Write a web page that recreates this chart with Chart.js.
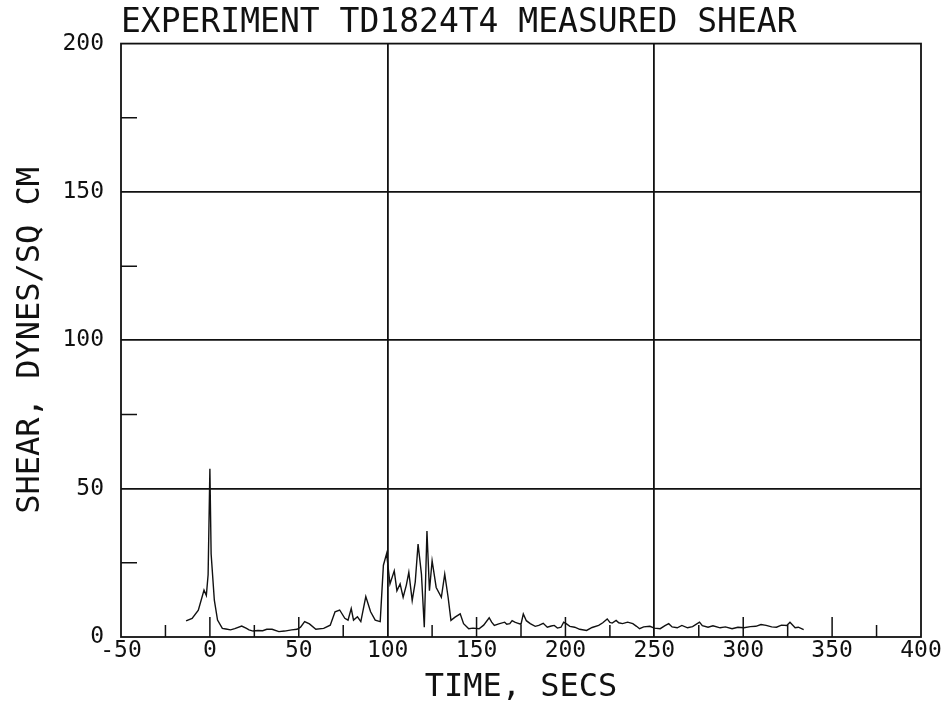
<!DOCTYPE html>
<html><head><meta charset="utf-8">
<script src="https://cdn.jsdelivr.net/npm/chart.js@4/dist/chart.umd.min.js"></script>
<style>html,body{margin:0;padding:0;background:#fff}#wrap{width:951px;height:709px}</style>
</head><body><div id="wrap"><canvas id="c"></canvas></div>
<script>
const timeSec = [-13.4,-10,-6.5,-3.3,-2,-1,0,0.7,2.5,4.3,7,9,11.6,14,17.9,20.6,22,24.3,27,29.7,32,35,38.8,42,46,49,51,53.3,56,59.6,64,67.7,70.4,73,75.9,77.7,79.5,80.8,83,84.9,87.7,90.4,93,95.8,97.6,99.4,101.3,103.7,105.2,107,108.7,110.5,111.9,113.8,115.5,117.1,119,120.6,122.1,123.5,125,127.3,130.2,132.1,134,135.6,137.9,140.8,142.7,145.6,148,151.4,154,157.1,158.5,160,162.5,165.8,167,168.7,170,171.5,173,175,176.3,178,180.2,183,185,187.5,189.8,192,193.7,195.5,197.5,199,200.4,202.5,205.2,208,211.9,215,218.7,221,223.5,225,226.3,228.5,230,232.1,235,237.9,240,241.7,244,247.5,250,253.3,256,258.1,260,262.9,265.5,268.7,271.5,275.4,277,280.2,283,287,290,293.7,297,300.4,304,307.1,310,312.9,316,318.7,321.5,324.5,326.3,329.2,331,334];
const shear = [5.4,6.3,9,15.8,14,21,56.7,28,12.4,5.7,2.9,2.7,2.4,2.8,3.7,2.9,2.4,2,2.2,2.1,2.6,2.6,1.8,2.0,2.4,2.6,3.3,5.2,4.4,2.6,2.9,4,8.5,9.1,6.3,5.7,9.6,5.7,6.8,5.2,13.6,8.5,5.7,5.2,24.2,28.1,17.9,22.3,15.6,17.9,13.4,17.5,21.8,12.3,18.5,31.3,21.2,3.3,35.7,15.6,25.7,16.7,13.4,21.2,13.4,5.6,6.7,7.8,4.5,2.8,3.0,2.8,4.0,6.5,5.0,3.9,4.4,5,4.3,4.5,5.5,5,4.7,4.3,7.8,5.5,4.5,3.6,3.9,4.6,3.3,3.7,3.9,3.0,3.3,5.0,4.5,3.6,3.3,2.6,2.2,3.2,3.9,4.8,6.1,4.9,4.7,5.6,4.8,4.5,5.0,4.5,3.6,2.8,3.4,3.6,3.0,2.8,3.8,4.5,3.4,3.1,3.9,3.1,3.5,5.0,3.8,3.3,3.8,3.1,3.4,2.8,3.3,3.1,3.5,3.6,4.2,3.9,3.4,3.3,4.0,3.9,5.0,3.1,3.3,2.5];
const xGridValues = [100, 250];
const yGridValues = [50, 100, 150];
const xInnerTicks = [-25,0,25,50,75,125,150,175,200,225,275,300,325,350,375];
const yInnerTicks = [25,75,125,175];
const titleText = 'EXPERIMENT TD1824T4 MEASURED SHEAR';
const xTitle = 'TIME, SECS';
const yTitle = 'SHEAR, DYNES/SQ CM';

const FONT = '"DejaVu Sans Mono", "Liberation Mono", monospace';
const INK = '#111';

const frame = {
  id: 'frame',
  afterDatasetsDraw(chart) {
    const {ctx, chartArea: a, scales: {x, y}} = chart;
    ctx.save();
    ctx.strokeStyle = INK;
    ctx.lineWidth = 1.8;
    ctx.strokeRect(a.left, a.top, a.right - a.left, a.bottom - a.top);
    ctx.lineWidth = 1.5;
    ctx.beginPath();
    xInnerTicks.forEach(v => {
      const px = x.getPixelForValue(v);
      const len = (v % 50 === 0) ? 20 : 12;
      ctx.moveTo(px, a.bottom); ctx.lineTo(px, a.bottom - len);
    });
    yInnerTicks.forEach(v => {
      const py = y.getPixelForValue(v);
      ctx.moveTo(a.left, py); ctx.lineTo(a.left + 16, py);
    });
    ctx.stroke();
    ctx.restore();
  }
};

new Chart(document.getElementById('c'), {
  type: 'line',
  data: {
    datasets: [{
      data: timeSec.map((t, i) => ({x: t, y: shear[i]})),
      borderColor: INK, borderWidth: 1.4, pointRadius: 0, tension: 0, fill: false
    }]
  },
  options: {
    responsive: true, maintainAspectRatio: false, animation: false,
    layout: {padding: {left: 0, right: 30, top: 0, bottom: 0}},
    plugins: {
      legend: {display: false}, tooltip: {enabled: false},
      title: {display: true, text: titleText, align: 'start', fullSize: false,
        color: INK, font: {family: FONT, size: 33, weight: 'normal'}, padding: {top: 4, bottom: 0}}
    },
    scales: {
      x: {
        type: 'linear', min: -50, max: 400,
        ticks: {stepSize: 50, color: INK, padding: 0, font: {family: FONT, size: 23}, maxRotation: 0,
          callback: v => String(v)},
        grid: {drawTicks: false, lineWidth: 1.8,
          color: c => xGridValues.includes(c.tick && c.tick.value) ? INK : 'rgba(0,0,0,0)'},
        border: {display: false},
        title: {display: true, text: xTitle, color: INK, font: {family: FONT, size: 32}, padding: {top: 4, bottom: 2}}
      },
      y: {
        min: 0, max: 200,
        afterFit: s => { s.width = 121; },
        ticks: {stepSize: 50, color: INK, padding: 17, font: {family: FONT, size: 23}},
        grid: {drawTicks: false, lineWidth: 1.8,
          color: c => yGridValues.includes(c.tick && c.tick.value) ? INK : 'rgba(0,0,0,0)'},
        border: {display: false},
        title: {display: true, text: yTitle, color: INK, font: {family: FONT, size: 32}, padding: {top: 11, bottom: 0}}
      }
    }
  },
  plugins: [frame]
});
</script></body></html>
